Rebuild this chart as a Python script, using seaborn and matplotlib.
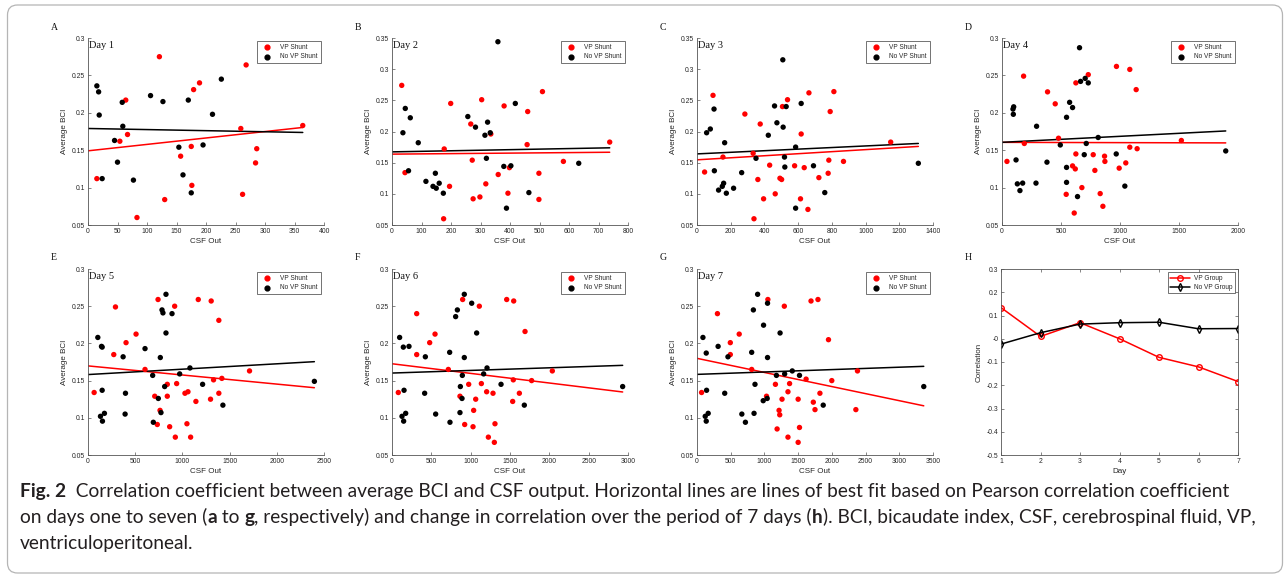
import numpy as np
import pandas as pd
import matplotlib
matplotlib.use('Agg')
import matplotlib.pyplot as plt
import seaborn as sns
from matplotlib.patches import FancyBboxPatch

# ---- data: CSF output (x) and average BCI (y) per day ----
d1_vp_csf = [15, 54, 64, 67, 83, 121, 130, 157, 175, 176, 179, 189, 259, 262, 268, 284, 286, 364]
d1_vp_bci = [0.112, 0.162, 0.217, 0.171, 0.060, 0.275, 0.084, 0.142, 0.155, 0.103, 0.231, 0.240, 0.179, 0.091, 0.264, 0.133, 0.152, 0.183]
d1_no_csf = [15, 18, 19, 24, 45, 50, 58, 59, 77, 106, 127, 154, 161, 170, 175, 195, 211, 226]
d1_no_bci = [0.236, 0.228, 0.197, 0.112, 0.163, 0.134, 0.214, 0.182, 0.110, 0.223, 0.215, 0.154, 0.117, 0.217, 0.093, 0.157, 0.198, 0.245]

d2_vp_csf = [33, 44, 177, 199, 195, 175, 267, 272, 275, 298, 304, 318, 335, 360, 380, 393, 398, 460, 458, 498, 498, 510, 581, 738]
d2_vp_bci = [0.274, 0.134, 0.172, 0.245, 0.112, 0.060, 0.212, 0.154, 0.092, 0.095, 0.251, 0.116, 0.196, 0.131, 0.241, 0.101, 0.142, 0.232, 0.179, 0.133, 0.091, 0.264, 0.152, 0.183]
d2_no_csf = [37, 45, 62, 56, 89, 115, 139, 147, 150, 160, 174, 257, 283, 315, 324, 333, 320, 359, 379, 403, 388, 418, 464, 633]
d2_no_bci = [0.198, 0.237, 0.222, 0.137, 0.182, 0.120, 0.112, 0.133, 0.109, 0.117, 0.101, 0.224, 0.207, 0.194, 0.215, 0.198, 0.157, 0.344, 0.144, 0.145, 0.077, 0.245, 0.102, 0.149]

d3_vp_csf = [45, 95, 154, 284, 375, 333, 338, 361, 395, 431, 464, 492, 502, 507, 537, 579, 614, 618, 636, 658, 664, 723, 778, 782, 790, 812, 869, 1149]
d3_vp_bci = [0.135, 0.258, 0.159, 0.228, 0.212, 0.165, 0.060, 0.123, 0.092, 0.146, 0.100, 0.125, 0.123, 0.240, 0.251, 0.145, 0.092, 0.196, 0.142, 0.075, 0.262, 0.126, 0.133, 0.154, 0.232, 0.264, 0.152, 0.183]
d3_no_csf = [57, 79, 101, 103, 128, 150, 158, 164, 174, 217, 265, 350, 423, 460, 474, 511, 519, 521, 529, 509, 585, 585, 618, 691, 758, 1313]
d3_no_bci = [0.198, 0.204, 0.236, 0.137, 0.106, 0.112, 0.117, 0.182, 0.101, 0.109, 0.134, 0.157, 0.194, 0.241, 0.214, 0.207, 0.159, 0.143, 0.240, 0.315, 0.175, 0.077, 0.245, 0.145, 0.102, 0.149]

d4_vp_csf = [42, 183, 189, 386, 451, 479, 544, 626, 626, 598, 621, 612, 677, 731, 773, 787, 832, 855, 869, 872, 970, 993, 1049, 1083, 1083, 1137, 1145, 1520]
d4_vp_bci = [0.135, 0.249, 0.159, 0.228, 0.212, 0.166, 0.091, 0.240, 0.145, 0.129, 0.125, 0.066, 0.100, 0.251, 0.144, 0.123, 0.092, 0.075, 0.142, 0.135, 0.262, 0.126, 0.133, 0.258, 0.154, 0.231, 0.152, 0.163]
d4_no_csf = [93, 99, 96, 119, 130, 152, 175, 288, 293, 381, 494, 547, 547, 547, 573, 598, 640, 657, 666, 705, 731, 697, 714, 815, 968, 1041, 1896]
d4_no_bci = [0.205, 0.208, 0.198, 0.137, 0.105, 0.096, 0.106, 0.106, 0.182, 0.134, 0.157, 0.107, 0.194, 0.127, 0.214, 0.207, 0.088, 0.287, 0.242, 0.246, 0.240, 0.144, 0.159, 0.167, 0.145, 0.102, 0.149]

d5_vp_csf = [65, 291, 273, 403, 509, 604, 742, 707, 763, 734, 840, 840, 865, 918, 925, 939, 1027, 1059, 1048, 1087, 1143, 1168, 1298, 1305, 1330, 1386, 1418, 1386, 1711]
d5_vp_bci = [0.134, 0.249, 0.185, 0.201, 0.2125, 0.165, 0.259, 0.129, 0.110, 0.091, 0.145, 0.129, 0.088, 0.250, 0.074, 0.146, 0.133, 0.135, 0.092, 0.074, 0.122, 0.259, 0.125, 0.257, 0.151, 0.231, 0.153, 0.133, 0.163]
d5_no_csf = [104, 143, 150, 150, 132, 153, 174, 372, 397, 393, 604, 685, 692, 745, 766, 773, 784, 794, 812, 826, 826, 890, 971, 1080, 1214, 1429, 2398]
d5_no_bci = [0.208, 0.196, 0.195, 0.137, 0.102, 0.0955, 0.106, 0.182, 0.133, 0.105, 0.193, 0.157, 0.094, 0.126, 0.181, 0.107, 0.245, 0.241, 0.142, 0.266, 0.214, 0.240, 0.159, 0.167, 0.145, 0.117, 0.149]

d6_vp_csf = [80, 314, 314, 479, 547, 716, 898, 864, 975, 924, 1038, 1064, 1030, 1110, 1136, 1203, 1284, 1309, 1225, 1301, 1458, 1547, 1542, 1534, 1619, 1691, 1775, 2038]
d6_vp_bci = [0.134, 0.240, 0.185, 0.201, 0.2125, 0.165, 0.259, 0.129, 0.145, 0.091, 0.110, 0.125, 0.088, 0.250, 0.146, 0.135, 0.133, 0.092, 0.074, 0.067, 0.259, 0.257, 0.151, 0.122, 0.133, 0.216, 0.150, 0.163]
d6_no_csf = [97, 144, 216, 153, 127, 148, 174, 424, 415, 555, 733, 737, 809, 831, 894, 919, 919, 1013, 869, 890, 864, 1076, 1208, 1165, 1386, 1682, 2932]
d6_no_bci = [0.208, 0.195, 0.196, 0.137, 0.102, 0.0955, 0.106, 0.182, 0.133, 0.105, 0.188, 0.094, 0.236, 0.245, 0.157, 0.181, 0.266, 0.254, 0.142, 0.126, 0.107, 0.214, 0.167, 0.159, 0.145, 0.117, 0.142]

d7_vp_csf = [68, 303, 494, 494, 626, 811, 1051, 1031, 1163, 1217, 1227, 1188, 1261, 1295, 1373, 1349, 1349, 1500, 1520, 1500, 1618, 1691, 1794, 1725, 1750, 1823, 1950, 1999, 2356, 2380]
d7_vp_bci = [0.134, 0.240, 0.201, 0.185, 0.2125, 0.165, 0.259, 0.129, 0.145, 0.110, 0.104, 0.085, 0.125, 0.250, 0.146, 0.135, 0.074, 0.125, 0.087, 0.067, 0.152, 0.257, 0.259, 0.121, 0.111, 0.133, 0.205, 0.150, 0.111, 0.163]
d7_no_csf = [88, 137, 142, 122, 137, 166, 313, 459, 411, 665, 718, 811, 846, 836, 860, 899, 987, 982, 1041, 1046, 1046, 1178, 1232, 1300, 1413, 1520, 1872, 3363]
d7_no_bci = [0.208, 0.187, 0.137, 0.102, 0.0955, 0.106, 0.196, 0.182, 0.133, 0.105, 0.094, 0.188, 0.106, 0.245, 0.145, 0.266, 0.2245, 0.123, 0.126, 0.254, 0.181, 0.157, 0.214, 0.159, 0.163, 0.157, 0.117, 0.142]

# correlation per day (panel H)
days = [1, 2, 3, 4, 5, 6, 7]
vp_corr = [0.134, 0.010, 0.069, 0.000, -0.080, -0.121, -0.184]
novp_corr = [-0.023, 0.026, 0.063, 0.069, 0.071, 0.043, 0.044]

panel_letters = ['A', 'B', 'C', 'D', 'E', 'F', 'G', 'H']
x_limits = [400, 800, 1400, 2000, 2500, 3000, 3500]
x_steps = [50, 100, 200, 500, 500, 500, 500]
y_tops = [0.3, 0.35, 0.35, 0.3, 0.3, 0.3, 0.3]

day_data = [
    (d1_vp_csf, d1_vp_bci, d1_no_csf, d1_no_bci),
    (d2_vp_csf, d2_vp_bci, d2_no_csf, d2_no_bci),
    (d3_vp_csf, d3_vp_bci, d3_no_csf, d3_no_bci),
    (d4_vp_csf, d4_vp_bci, d4_no_csf, d4_no_bci),
    (d5_vp_csf, d5_vp_bci, d5_no_csf, d5_no_bci),
    (d6_vp_csf, d6_vp_bci, d6_no_csf, d6_no_bci),
    (d7_vp_csf, d7_vp_bci, d7_no_csf, d7_no_bci),
]

sns.set_theme(style='ticks')
plt.rcParams['font.family'] = ['Liberation Sans', 'DejaVu Sans']
TXT = '#262626'
AX = '#555555'

W, H = 1288, 577
fig = plt.figure(figsize=(W / 100, H / 100), dpi=100)

# axes boxes in pixels: (left, top, width, height)
lefts = [88, 392, 697, 1002]
rows = [(38, 187), (269, 186)]


def px_axes(left, top, w, h):
    return fig.add_axes([left / W, 1 - (top + h) / H, w / W, h / H])


def style_axes(ax, full_box=False):
    for side in ['top', 'right']:
        ax.spines[side].set_visible(full_box)
    for sp in ax.spines.values():
        sp.set_color(AX)
        sp.set_linewidth(0.6)
    ax.tick_params(direction='in', length=2.2, width=0.5, colors=AX, labelcolor=TXT,
                   labelsize=4.9, pad=2, top=full_box, right=full_box)


for i, (vx, vy, nx, ny) in enumerate(day_data):
    r, c = divmod(i, 4)
    top, h = rows[r]
    ax = px_axes(lefts[c], top, 236, h)

    df = pd.concat([
        pd.DataFrame({'CSF Out': vx, 'Average BCI': vy, 'Group': 'VP Shunt'}),
        pd.DataFrame({'CSF Out': nx, 'Average BCI': ny, 'Group': 'No VP Shunt'}),
    ], ignore_index=True)

    sns.scatterplot(data=df, x='CSF Out', y='Average BCI', hue='Group',
                    hue_order=['VP Shunt', 'No VP Shunt'],
                    palette={'VP Shunt': '#ff0000', 'No VP Shunt': '#000000'},
                    s=15, edgecolor='none', linewidth=0, ax=ax, zorder=3, legend=False)

    # least-squares lines from 0 to the largest CSF value of the day
    x_end = df['CSF Out'].max()
    xs = np.array([0, x_end])
    for gx, gy, col in [(vx, vy, '#ff0000'), (nx, ny, '#000000')]:
        k, b = np.polyfit(gx, gy, 1)
        ax.plot(xs, k * xs + b, color=col, lw=1.1, zorder=2)

    ax.scatter([], [], s=12, color='#ff0000', label='VP Shunt')
    ax.scatter([], [], s=12, color='#000000', label='No VP Shunt')
    leg = ax.legend(loc='upper right', fontsize=4.7, frameon=True, fancybox=False,
                    borderpad=0.45, labelspacing=0.35, handletextpad=0.9,
                    handlelength=2.2, borderaxespad=0.5, edgecolor='#333333')
    leg.get_frame().set_linewidth(0.6)

    ax.set_xlim(0, x_limits[i])
    ax.set_ylim(0.05, y_tops[i])
    ax.set_xticks(np.arange(0, x_limits[i] + 1, x_steps[i]))
    ax.set_yticks(np.arange(0.05, y_tops[i] + 0.001, 0.05))
    ax.yaxis.set_major_formatter(matplotlib.ticker.FormatStrFormatter('%g'))
    ax.set_xlabel('CSF Out', fontsize=5.8, color=TXT, labelpad=2)
    ax.set_ylabel('Average BCI', fontsize=5.8, color=TXT, labelpad=3)
    style_axes(ax)
    ax.text(0.003, 0.985, f'Day {i + 1}', transform=ax.transAxes, ha='left', va='top',
            family='Liberation Serif', fontsize=7.5, color='#111111')
    fig.text((lefts[c] - 37) / W, 1 - (top - 11) / H, panel_letters[i],
             family='Liberation Serif', fontsize=7, ha='left', va='center', color='#111111')

# panel H: change in correlation
axh = px_axes(1001, 269, 237, 186)
sns.lineplot(x=days, y=vp_corr, ax=axh, color='#ff0000', lw=1.1, marker='o', markersize=4,
             markerfacecolor='none', markeredgecolor='#ff0000', markeredgewidth=1.0, label='VP Group')
sns.lineplot(x=days, y=novp_corr, ax=axh, color='#000000', lw=1.1, marker='d', markersize=4,
             markerfacecolor='none', markeredgecolor='#000000', markeredgewidth=1.0, label='No VP Group')
axh.set_xlim(1, 7)
axh.set_ylim(-0.5, 0.3)
axh.set_xticks(days)
axh.set_yticks(np.round(np.arange(-0.5, 0.31, 0.1), 1))
axh.yaxis.set_major_formatter(matplotlib.ticker.FormatStrFormatter('%g'))
axh.set_xlabel('Day', fontsize=5.8, color=TXT, labelpad=2)
axh.set_ylabel('Correlation', fontsize=5.8, color=TXT, labelpad=3)
style_axes(axh, full_box=True)
legh = axh.legend(loc='upper right', fontsize=4.7, frameon=True, fancybox=False,
                  borderpad=0.4, labelspacing=0.3, handletextpad=0.6,
                  handlelength=3.0, borderaxespad=0.5, edgecolor='#333333')
legh.get_frame().set_linewidth(0.6)
fig.text((1001 - 36) / W, 1 - (269 - 12) / H, 'H', family='Liberation Serif',
         fontsize=7, ha='left', va='center', color='#111111')

# outer rounded frame
frame = FancyBboxPatch((0.075, 0.04), 12.75, 5.68,
                       boxstyle='round,pad=0,rounding_size=0.1',
                       transform=fig.dpi_scale_trans, fill=False,
                       edgecolor='#b5b5b5', lw=0.9)
fig.patches.append(frame)

# caption with bold fragments
cap_font = ['Lato', 'DejaVu Sans']
cap_size = 13.8
renderer = fig.canvas.get_renderer()


def rich_line(x_px, base_px, parts):
    x = x_px / W
    for s, wgt in parts:
        t = fig.text(x, 1 - base_px / H, s, fontsize=cap_size, fontweight=wgt,
                     family=cap_font, ha='left', va='baseline', color='#231f20')
        x += t.get_window_extent(renderer=renderer).width / W


rich_line(20, 497, [('Fig. 2', 'bold'),
                    ('  Correlation coefficient between average BCI and CSF output. Horizontal lines '
                     'are lines of best fit based on Pearson correlation coefficient', 'normal')])
rich_line(20, 523, [('on days one to seven (', 'normal'), ('a', 'bold'), (' to ', 'normal'),
                    ('g', 'bold'), (', respectively) and change in correlation over the period of 7 days (', 'normal'),
                    ('h', 'bold'), ('). BCI, bicaudate index, CSF, cerebrospinal fluid, VP,', 'normal')])
rich_line(20, 549, [('ventriculoperitoneal.', 'normal')])

fig.savefig('out.png', dpi=100)
